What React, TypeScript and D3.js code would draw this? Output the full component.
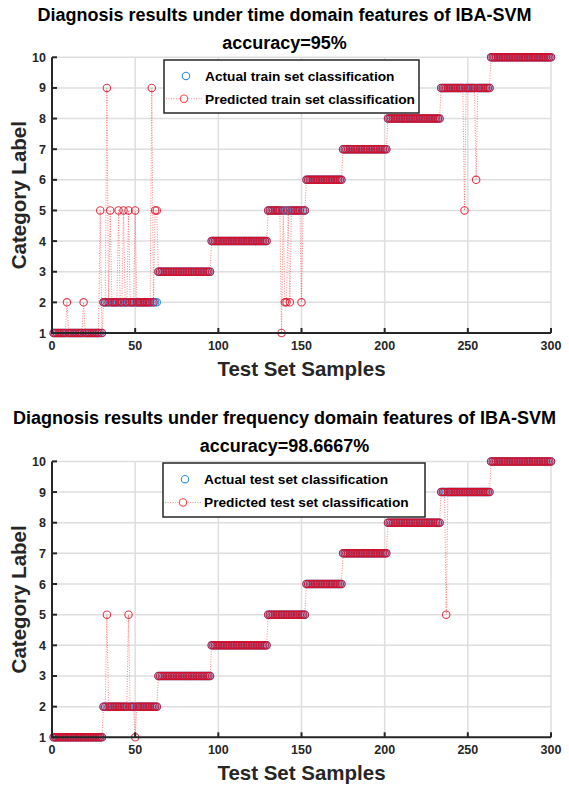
import React from "react";
import * as d3 from "d3";

// Samples per category (test set sorted by category), categories 1..10
const classCounts = [30, 33, 32, 34, 23, 22, 27, 32, 30, 37];
// Misclassified samples: [sample index, predicted label]
const timeErrors: [number, number][] = [
  [9, 2], [19, 2], [29, 5], [33, 9], [35, 5], [40, 5], [43, 5], [46, 5], [50, 5],
  [60, 9], [62, 5], [63, 5], [138, 1], [140, 2], [141, 2], [143, 2], [150, 2],
  [248, 5], [255, 6],
];
const freqErrors: [number, number][] = [[33, 5], [46, 5], [50, 1], [237, 5]];
const xTicks = [0, 50, 100, 150, 200, 250, 300];
const yTicks = [1, 2, 3, 4, 5, 6, 7, 8, 9, 10];

const actual: number[] = [];
classCounts.forEach((c, i) => {
  for (let k = 0; k < c; k++) actual.push(i + 1);
});

function predictedFrom(errors: [number, number][]) {
  const p = actual.slice();
  errors.forEach(([s, v]) => (p[s - 1] = v));
  return p;
}

const FONT = "'Liberation Sans', Arial, Helvetica, sans-serif";
const BLUE = "#3a8ee0";
const RED = "#d80c26";
const AX = "#262626";

type PanelProps = {
  y10: number;
  y1: number;
  title1: string;
  title2: string;
  t1y: number;
  t2y: number;
  legend: { x0: number; x1: number; y0: number; y1: number; a: string; p: string };
  errors: [number, number][];
};

function Panel({ y10, y1, title1, title2, t1y, t2y, legend, errors }: PanelProps) {
  const x = d3.scaleLinear().domain([0, 300]).range([52, 551]);
  const y = d3.scaleLinear().domain([1, 10]).range([y1, y10]);
  const pred = predictedFrom(errors);
  const line = d3
    .line<number>()
    .x((_, i) => x(i + 1))
    .y((d) => y(d));
  const r = 3.7;
  const row1 = legend.y0 + (legend.y1 - legend.y0) * 0.3;
  const row2 = legend.y0 + (legend.y1 - legend.y0) * 0.73;
  return (
    <g>
      <text x={284.5} y={t1y} textAnchor="middle" fontFamily={FONT} fontWeight="bold" fontSize={18} fill="#000">
        {title1}
      </text>
      <text x={284.5} y={t2y} textAnchor="middle" fontFamily={FONT} fontWeight="bold" fontSize={18} fill="#000">
        {title2}
      </text>
      {/* grid */}
      {xTicks.slice(1).map((t) => (
        <line key={"gx" + t} x1={x(t)} x2={x(t)} y1={y(1)} y2={y(10)} stroke="#dedede" strokeWidth={1.5} />
      ))}
      {yTicks.map((t) => (
        <line key={"gy" + t} x1={x(0)} x2={x(300)} y1={y(t)} y2={y(t)} stroke="#dedede" strokeWidth={1.5} />
      ))}
      {/* actual */}
      {actual.map((v, i) => (
        <circle key={"a" + i} cx={x(i + 1)} cy={y(v)} r={r} fill="none" stroke={BLUE} strokeWidth={1.1} />
      ))}
      {/* predicted */}
      <path d={line(pred) || ""} fill="none" stroke="#ff3030" strokeOpacity={0.6} strokeWidth={1} strokeDasharray="1,1.5" />
      {pred.map((v, i) => (
        <circle key={"p" + i} cx={x(i + 1)} cy={y(v)} r={r} fill="none" stroke={RED} strokeOpacity={0.8} strokeWidth={1.1} />
      ))}
      {/* axes */}
      <line x1={x(0)} x2={x(300)} y1={y(1)} y2={y(1)} stroke={AX} strokeWidth={2} />
      <line x1={x(0)} x2={x(0)} y1={y(1) + 1} y2={y(10)} stroke={AX} strokeWidth={2} />
      {xTicks.map((t) => (
        <g key={"xt" + t}>
          <line x1={x(t)} x2={x(t)} y1={y(1)} y2={y(1) - 5} stroke={AX} strokeWidth={2} />
          <text x={x(t)} y={y(1) + 17} textAnchor="middle" fontFamily={FONT} fontWeight="bold" fontSize={12.5} fill={AX}>
            {t}
          </text>
        </g>
      ))}
      {yTicks.map((t) => (
        <g key={"yt" + t}>
          <line x1={x(0)} x2={x(0) + 5} y1={y(t)} y2={y(t)} stroke={AX} strokeWidth={2} />
          <text x={x(0) - 6} y={y(t) + 4.5} textAnchor="end" fontFamily={FONT} fontWeight="bold" fontSize={12.5} fill={AX}>
            {t}
          </text>
        </g>
      ))}
      <text x={(x(0) + x(300)) / 2} y={y(1) + 43} textAnchor="middle" fontFamily={FONT} fontWeight="bold" fontSize={20.5} fill={AX}>
        Test Set Samples
      </text>
      <text
        transform={`translate(${26},${(y(1) + y(10)) / 2}) rotate(-90)`}
        textAnchor="middle"
        fontFamily={FONT}
        fontWeight="bold"
        fontSize={20.5}
        fill={AX}
      >
        Category Label
      </text>
      {/* legend */}
      <rect x={legend.x0} y={legend.y0} width={legend.x1 - legend.x0} height={legend.y1 - legend.y0} fill="#fff" stroke={AX} strokeWidth={1.5} />
      <circle cx={legend.x0 + 22} cy={row1} r={r} fill="none" stroke={BLUE} strokeWidth={1.1} />
      <line x1={legend.x0 + 2} x2={legend.x0 + 38} y1={row2} y2={row2} stroke="#ff3030" strokeOpacity={0.6} strokeDasharray="1,1.5" />
      <circle cx={legend.x0 + 20} cy={row2} r={r} fill="#fff" stroke="#ff2020" strokeOpacity={0.8} strokeWidth={1.1} />
      <text x={legend.x0 + 41} y={row1 + 5} fontFamily={FONT} fontWeight="bold" fontSize={13.7} fill="#000">
        {legend.a}
      </text>
      <text x={legend.x0 + 41} y={row2 + 5} fontFamily={FONT} fontWeight="bold" fontSize={13.7} fill="#000">
        {legend.p}
      </text>
    </g>
  );
}

export default function App() {
  return (
    <div style={{ position: "absolute", left: 0, top: 0 }}>
      <svg width={569} height={787} style={{ display: "block", background: "#fff" }}>
        <Panel
          y10={57.3}
          y1={333}
          title1="Diagnosis results under time domain features of IBA-SVM"
          title2="accuracy=95%"
          t1y={21}
          t2y={49}
          legend={{ x0: 164, x1: 419, y0: 60, y1: 113, a: "Actual train set classification", p: "Predicted train set classification" }}
          errors={timeErrors}
        />
        <Panel
          y10={461.4}
          y1={737.3}
          title1="Diagnosis results under frequency domain features of IBA-SVM"
          title2="accuracy=98.6667%"
          t1y={424}
          t2y={452}
          legend={{ x0: 163, x1: 425, y0: 463, y1: 517, a: "Actual test set classification", p: "Predicted test set classification" }}
          errors={freqErrors}
        />
      </svg>
    </div>
  );
}
